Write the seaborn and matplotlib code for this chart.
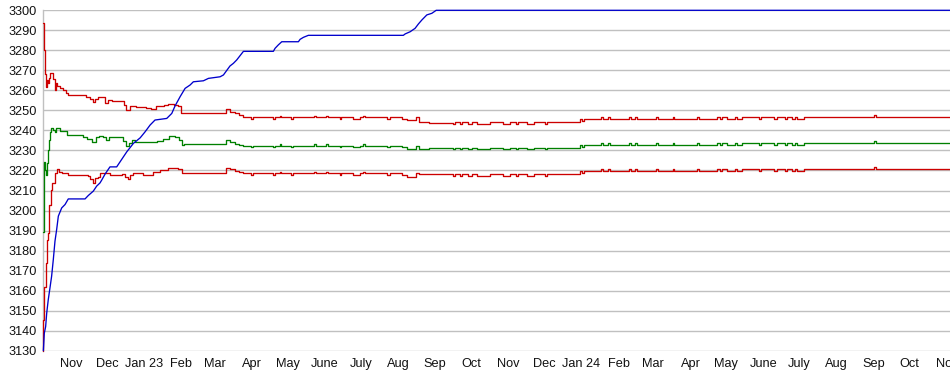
import matplotlib
matplotlib.use("Agg")
import matplotlib.pyplot as plt
import numpy as np
import pandas as pd
import seaborn as sns

# x = days since the first sample
START = pd.Timestamp("2022-10-08 14:00")

top_early_days = [0, 0.6, 1.0, 1.5, 2.4, 3.4, 4.2, 5.0, 5.8, 8.4, 9.6, 10.6, 12, 14.5, 17, 19.5, 21, 36, 39.5, 41.5,
                  43.5, 46, 51.5, 54.5, 58, 67.5, 69, 73, 78, 86, 90, 94, 101, 104, 109, 113, 115.5, 153, 156, 160, 164]
top_early_vals = [3293.5, 3290, 3280, 3268, 3261.5, 3265, 3263.5, 3266, 3268.5, 3265.5, 3260, 3263.5, 3262, 3261, 3260,
                  3258.5, 3257.5, 3256.5, 3255.5, 3254, 3255.5, 3256.5, 3253.5, 3255, 3254.5, 3252.5, 3250, 3252, 3251.5,
                  3251, 3250.5, 3252, 3252.5, 3253, 3252.5, 3252, 3248.5, 3250.5, 3249.3, 3248.5, 3247.5]

mid_early_days = [0, 0.5, 1.8, 2.4, 3.0, 3.8, 4.8, 5.6, 6.8, 8.5, 10, 10.8, 12.8, 14.2, 20, 33, 37, 41, 44, 47,
                  50, 52.5, 55, 67, 69.5, 72, 74.5, 77, 95, 100, 105, 110, 113.5, 115.8, 118, 153, 156, 160, 164]
mid_early_vals = [3189.5, 3224, 3220, 3217.7, 3223.5, 3230, 3235, 3239.3, 3241.3, 3240,
                  3239.3, 3241.3, 3241, 3239.7, 3237.7, 3236.5, 3235.5, 3234.3, 3236.5, 3237,
                  3236.5, 3235.2, 3236.5, 3234.8, 3232.3, 3233.5, 3235.2, 3234.3, 3234.6, 3235.5,
                  3237, 3236.5, 3235, 3232.7, 3233.2, 3235.2, 3234.3, 3233.2, 3232.7]

low_early_days = [0, 0.3, 1.1, 2.2, 2.8, 3.3, 3.9, 4.7, 5.3, 6.4, 7.2, 9.2, 10, 12, 13.2, 15.6, 18.4, 21.1, 37.8, 39.2,
                  41.4, 43.4, 46.2, 47.6, 53.2, 55.9, 65.7, 68.5, 70.7, 72.6, 75.4, 83.7, 92.1, 97.6, 104.6, 113, 115.8,
                  153, 156, 160, 164]
low_early_vals = [3130, 3145.5, 3162, 3164, 3174, 3185.5, 3189, 3197, 3203, 3210.5,
                  3214, 3213.8, 3218.8, 3220.5, 3219.3, 3218.8, 3218.5, 3217.7, 3217.2, 3215.5,
                  3213.8, 3216, 3216.8, 3218.5, 3218.8, 3217.7, 3218.2, 3216.8, 3215.5, 3217.7,
                  3218.5, 3217.7, 3219.3, 3220.2, 3221, 3220.5, 3218.5, 3221, 3220.5, 3219.8, 3219]

late_days = [167, 174, 175.5, 192, 193.5, 197.5, 199, 207, 208.5, 226.5,
             228, 236.5, 238, 247.5, 249, 259, 265, 267, 268.5, 287.5,
             290, 300, 304, 311, 313.5, 322, 342, 344, 348, 350,
             355, 358, 362, 373, 384, 390, 395, 396.5, 404, 409.5,
             419, 420.5, 448.5, 450, 451.5, 466, 467.5, 471.5, 473, 489.5,
             491, 494, 495.5, 512, 513.5, 525.5, 527, 546, 547.5, 562.5,
             565, 566.5, 571, 578, 579.5, 583.5, 598, 599.5, 610.5, 613,
             619.5, 621, 625, 628, 629.5, 635, 693.5, 695, 757.5]
top_late_vals = [3246.5, 3245.7, 3246.5, 3245.7, 3246.5, 3247.3, 3246.5, 3245.7, 3246.5, 3247.3,
                 3246.5, 3247.3, 3246.5, 3245.7, 3246.5, 3245.7, 3246.5, 3247.3, 3246.5, 3245.7,
                 3246.5, 3245.7, 3245.0, 3246.5, 3244.3, 3243.8, 3243.3, 3244.1, 3243.3, 3244.1,
                 3243.3, 3244.1, 3243.3, 3244.1, 3243.3, 3244.1, 3243.3, 3244.1, 3243.3, 3244.1,
                 3243.3, 3244.1, 3245.5, 3244.5, 3245.5, 3246.5, 3245.5, 3246.5, 3245.5, 3246.5,
                 3245.5, 3246.5, 3245.5, 3246.5, 3245.5, 3246.5, 3245.5, 3246.5, 3245.5, 3246.5,
                 3245.5, 3246.5, 3245.5, 3246.5, 3245.5, 3246.5, 3245.5, 3246.5, 3245.5, 3246.5,
                 3245.5, 3246.5, 3245.5, 3246.5, 3245.5, 3246.5, 3247.5, 3246.5, 3246.5]
mid_late_vals = [3232.3, 3231.5, 3232.3, 3231.5, 3232.3, 3233.1, 3232.3, 3231.5, 3232.3, 3233.1,
                 3232.3, 3233.1, 3232.3, 3231.5, 3232.3, 3231.5, 3232.3, 3233.1, 3232.3, 3231.5,
                 3232.3, 3231.5, 3230.7, 3232.3, 3230.7, 3231.0, 3230.5, 3231.3, 3230.5, 3231.3,
                 3230.5, 3231.3, 3230.5, 3231.3, 3230.5, 3231.3, 3230.5, 3231.3, 3230.5, 3231.3,
                 3230.5, 3231.3, 3232.7, 3231.7, 3232.7, 3233.7, 3232.7, 3233.7, 3232.7, 3233.7,
                 3232.7, 3233.7, 3232.7, 3233.7, 3232.7, 3233.7, 3232.7, 3233.7, 3232.7, 3233.7,
                 3232.7, 3233.7, 3232.7, 3233.7, 3232.7, 3233.7, 3232.7, 3233.7, 3232.7, 3233.7,
                 3232.7, 3233.7, 3232.7, 3233.7, 3232.7, 3233.7, 3234.7, 3233.7, 3233.7]
low_late_vals = [3218.5, 3217.7, 3218.5, 3217.7, 3218.5, 3219.3, 3218.5, 3217.7, 3218.5, 3219.3,
                 3218.5, 3219.3, 3218.5, 3217.7, 3218.5, 3217.7, 3218.5, 3219.3, 3218.5, 3217.7,
                 3218.5, 3217.7, 3216.8, 3218.5, 3218.2, 3218.0, 3217.2, 3218.0, 3217.2, 3218.0,
                 3217.2, 3218.0, 3217.2, 3218.0, 3217.2, 3218.0, 3217.2, 3218.0, 3217.2, 3218.0,
                 3217.2, 3218.0, 3219.8, 3218.8, 3219.8, 3220.8, 3219.8, 3220.8, 3219.8, 3220.8,
                 3219.8, 3220.8, 3219.8, 3220.8, 3219.8, 3220.8, 3219.8, 3220.8, 3219.8, 3220.8,
                 3219.8, 3220.8, 3219.8, 3220.8, 3219.8, 3220.7, 3219.7, 3220.7, 3219.7, 3220.7,
                 3219.7, 3220.7, 3219.7, 3220.7, 3219.7, 3220.7, 3221.7, 3220.7, 3220.7]

blue_days = [0.3, 1.1, 2.2, 3.1, 4.4, 5.8, 7.2, 8.6, 10, 11.4,
             12.8, 15.6, 18.4, 21.1, 35.1, 37.8, 42, 44.8, 47.6, 49,
             51.8, 55.9, 61.5, 64.3, 69.9, 75.4, 81.1, 85.2, 89.4, 93.5,
             103.3, 107.5, 110.2, 114.4, 118.6, 122.8, 125.5, 133.9, 138.1, 147.8,
             150.6, 156.1, 158.9, 161.7, 167.3, 192.3, 193.7, 196.4, 199.3, 213.2,
             214.6, 217.4, 221.5, 300.8, 302.3, 306.5, 310.6, 313.4, 316.3, 320.4,
             324.6, 328.2, 757.5]
blue_vals = [3130, 3138.8, 3142, 3148.8, 3155.5, 3161.3, 3167.2, 3175.5, 3184.7, 3190.5,
             3197.2, 3201.3, 3203, 3205.8, 3205.8, 3207.5, 3209.7, 3212.2, 3213.8, 3215.2,
             3218.2, 3221.8, 3221.8, 3224.3, 3229.3, 3233.5, 3236.3, 3239.3, 3242.7, 3245.2,
             3246, 3248.5, 3252.2, 3256.8, 3261, 3262.7, 3264.3, 3264.8, 3266, 3266.8,
             3267.7, 3272.2, 3273.5, 3275.2, 3279.5, 3279.5, 3281, 3282.7, 3284.3, 3284.3,
             3285.5, 3286.5, 3287.5, 3287.5, 3288.2, 3289.3, 3291, 3293.2, 3295.2, 3297.7,
             3298.5, 3300, 3300]

month_labels = ["Nov", "Dec", "Jan 23", "Feb", "Mar", "Apr", "May", "June", "July", "Aug", "Sep", "Oct",
                "Nov", "Dec", "Jan 24", "Feb", "Mar", "Apr", "May", "June", "July", "Aug", "Sep", "Oct", "Nov"]
y_ticks = list(range(3130, 3301, 10))

RED, GREEN, BLUE = "#cc0000", "#008000", "#0000cc"

sns.set_style("white")
plt.rcParams["font.family"] = ["Liberation Sans", "DejaVu Sans"]

W, H = 950, 375
fig = plt.figure(figsize=(W / 100, H / 100), dpi=100)
ax = fig.add_axes([43 / W, 1 - 350.7 / H, 1 - 43 / W, 340.4 / H])


def frame(days, vals):
    return pd.DataFrame({"date": START + pd.to_timedelta(np.asarray(days, dtype=float), unit="D"),
                         "value": vals})


series = [
    (top_early_days + late_days, top_early_vals + top_late_vals, RED, "steps-post"),
    (mid_early_days + late_days, mid_early_vals + mid_late_vals, GREEN, "steps-post"),
    (low_early_days + late_days, low_early_vals + low_late_vals, RED, "steps-post"),
    (blue_days, blue_vals, BLUE, "default"),
]
for days, vals, col, ds in series:
    sns.lineplot(data=frame(days, vals), x="date", y="value", ax=ax, color=col, lw=0.95,
                 estimator=None, sort=False, drawstyle=ds, clip_on=False, zorder=3)

ax.set_ylim(3130, 3300)
ax.set_xlim(START, START + pd.Timedelta(days=757.1))
ax.set_yticks(y_ticks)
ax.set_yticklabels([str(v) for v in y_ticks])
month_ticks = pd.date_range("2022-11-01", "2024-11-01", freq="MS")
ax.set_xticks(month_ticks)
ax.set_xticklabels(month_labels)
ax.set_xlabel("")
ax.set_ylabel("")
ax.grid(axis="y", color="#c0c0c0", lw=1.0)
ax.grid(axis="x", visible=False)
ax.set_axisbelow(True)
for s in ["top", "right", "bottom"]:
    ax.spines[s].set_visible(False)
ax.spines["left"].set_color("#c0c0c0")
ax.spines["left"].set_linewidth(1.0)
ax.tick_params(axis="both", length=0, labelsize=9.2, colors="#111111")
ax.tick_params(axis="y", pad=4.5)
ax.tick_params(axis="x", pad=5.0)

fig.savefig("out.png", dpi=100)
